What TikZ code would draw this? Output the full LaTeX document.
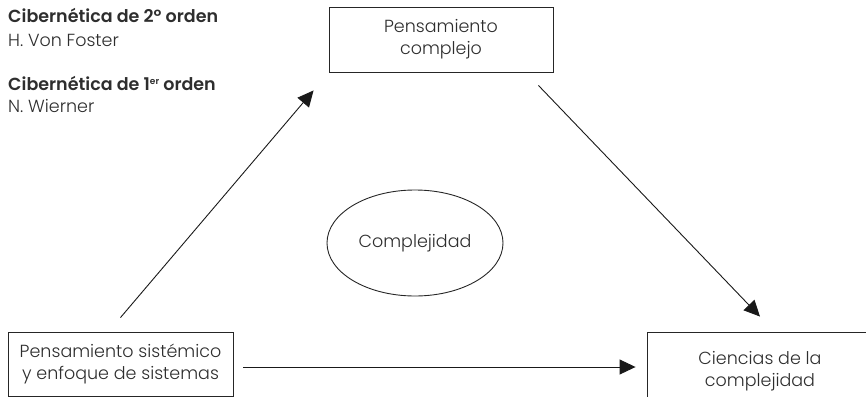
\documentclass[tikz,border=0pt]{standalone}
\usepackage{fontspec}
\setmainfont{Poppins}[UprightFont={Poppins Light}, BoldFont={Poppins SemiBold}]
\usetikzlibrary{shapes.geometric,arrows.meta,calc}
\definecolor{txt}{HTML}{2E2E2E}
\tikzset{
  box/.style={draw=black!85, line width=0.9pt, align=center, inner sep=0pt, text=txt,
    font=\fontsize{17.5}{22}\selectfont},
  oval/.style={ellipse, draw=black!85, line width=0.9pt, inner sep=0pt, text=txt,
    font=\fontsize{17.5}{22}\selectfont},
  lbl/.style={anchor=base west, inner sep=0pt, text=txt, font=\fontsize{17.5}{22}\selectfont},
  arr/.style={line width=0.9pt, draw=black!90, -{Triangle[length=16pt,width=15pt]}},
}
\begin{document}
\begin{tikzpicture}[x=1pt,y=-1pt]
\useasboundingbox (0,0) rectangle (866,396);
\node[box, minimum width=224pt, minimum height=65pt] (tc) at (441,39.5) {Pensamiento\\complejo};
\node[box, minimum width=225pt, minimum height=64pt] (lb) at (120.5,364) {Pensamiento sistémico\\y enfoque de sistemas};
\node[box, minimum width=226pt, minimum height=78pt] (rb) at (760,371) {Ciencias de la\\complejidad};
\node[oval, minimum width=176pt, minimum height=106pt] (cx) at (415,243) {Complejidad};
\node[lbl] (c2) at (8,23) {\bfseries Cibernética de 2º orden};
\node[lbl] (vf) at (8,46) {H. Von Foster};
\node[lbl] (c1) at (8,90) {\bfseries Cibernética de 1\raisebox{5.5pt}{\fontsize{9}{9}\selectfont er} orden};
\node[lbl] (nw) at (8,112) {N. Wierner};
\draw[arr] ($(lb.north)+(0,-14)$) -- ($(tc.south west)+(-15,18)$);
\draw[arr] ($(tc.south east)+(-15,13)$) -- ($(rb.north)+(0,-15)$);
\draw[arr] ($(lb.east)+(10,3)$) -- ($(rb.west)+(-11,-4)$);
\end{tikzpicture}
\end{document}
